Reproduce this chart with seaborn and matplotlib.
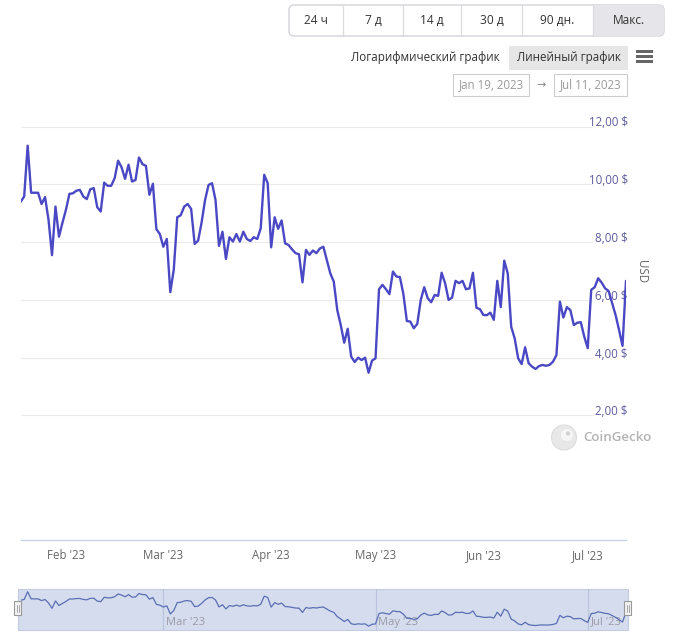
import matplotlib
matplotlib.use("Agg")
import matplotlib.pyplot as plt
import matplotlib.transforms as mtransforms
from matplotlib.patches import FancyBboxPatch, Rectangle, Circle
import pandas as pd
import seaborn as sns

# ---------------- data ----------------
start_date = "2023-01-19"
prices = [
    9.40, 9.58, 11.34, 9.71, 9.71, 9.71, 9.32, 9.56, 8.77, 7.55,
    9.23, 8.19, 8.67, 9.12, 9.67, 9.69, 9.78, 9.81, 9.58, 9.49,
    9.83, 9.87, 9.21, 9.06, 10.06, 9.95, 9.95, 10.21, 10.82, 10.59,
    10.19, 10.68, 10.10, 10.15, 10.93, 10.70, 10.64, 9.64, 10.02, 8.45,
    8.28, 7.84, 8.11, 6.27, 7.04, 8.86, 8.93, 9.23, 9.32, 9.15,
    7.94, 8.05, 8.68, 9.46, 9.98, 10.04, 9.46, 7.87, 8.36, 7.42,
    8.17, 8.02, 8.28, 8.02, 8.36, 8.11, 8.04, 8.17, 8.11, 8.48,
    10.33, 10.04, 7.82, 8.86, 8.46, 8.75, 7.96, 7.90, 7.75, 7.62,
    7.58, 6.61, 7.73, 7.56, 7.71, 7.62, 7.78, 7.84, 7.38, 6.92,
    6.63, 5.65, 5.13, 4.52, 5.00, 4.04, 3.85, 4.00, 3.92, 4.00,
    3.48, 3.90, 3.98, 6.37, 6.52, 6.37, 6.20, 6.98, 6.81, 6.79,
    6.21, 5.27, 5.25, 5.02, 5.17, 6.00, 6.44, 6.06, 5.92, 6.17,
    6.14, 6.94, 6.58, 6.00, 6.08, 6.66, 6.58, 6.66, 6.37, 6.40,
    6.94, 5.73, 5.68, 5.48, 5.47, 5.56, 5.31, 6.66, 5.75, 7.36,
    6.92, 5.07, 4.67, 3.98, 3.78, 4.36, 3.81, 3.69, 3.61, 3.71,
    3.75, 3.72, 3.75, 3.86, 4.09, 5.94, 5.39, 5.75, 5.65, 5.13,
    5.21, 5.23, 4.73, 4.33, 6.35, 6.44, 6.75, 6.60, 6.40, 6.31,
    5.89, 5.48, 4.96, 4.41, 6.66,
]
y_ticks = [2, 4, 6, 8, 10, 12]
y_tick_labels = ["2,00 $", "4,00 $", "6,00 $", "8,00 $", "10,00 $", "12,00 $"]
x_tick_dates = ["2023-02-01", "2023-03-01", "2023-04-01", "2023-05-01", "2023-06-01", "2023-07-01"]
x_tick_labels = ["Feb '23", "Mar '23", "Apr '23", "May '23", "Jun '23", "Jul '23"]
nav_tick_dates = ["2023-03-01", "2023-05-01", "2023-07-01"]
nav_tick_labels = ["Mar '23", "May '23", "Jul '23"]
range_buttons = ["24 ч", "7 д", "14 д", "30 д", "90 дн.", "Макс."]
scale_buttons = ["Логарифмический график", "Линейный график"]
date_from = "Jan 19, 2023"
date_to = "Jul 11, 2023"
y_axis_title = "USD"
watermark = "CoinGecko"

df = pd.DataFrame({"date": pd.date_range(start_date, periods=len(prices), freq="D"),
                   "price": prices})

# ---------------- style ----------------
sns.set_theme(style="white")
plt.rcParams["font.family"] = ["Open Sans", "DejaVu Sans"]

W, H = 691, 636
fig = plt.figure(figsize=(W / 100, H / 100), dpi=100)
fig.patch.set_facecolor("white")

def fx(px):
    return px / W

def fy(py):
    return 1 - py / H

LINE = "#4a48c4"

# ---------------- main chart ----------------
x0, x1 = 20.7, 626.0
top, bot = 100.0, 540.0
ax = fig.add_axes([fx(x0), fy(bot), fx(x1 - x0), (bot - top) / H])
sns.lineplot(data=df, x="date", y="price", ax=ax, color=LINE, lw=1.7, zorder=3)
ax.set_xlim(df["date"].iloc[0], df["date"].iloc[-1])
ax.set_ylim(-2.31, 12.92)
ax.set_xlabel("")
ax.set_ylabel("")
for s in ["top", "left", "right"]:
    ax.spines[s].set_visible(False)
ax.spines["bottom"].set_color("#ccd6eb")
ax.spines["bottom"].set_linewidth(1.0)
ax.set_yticks([])
ax.set_xticks(pd.to_datetime(x_tick_dates))
ax.set_xticklabels(x_tick_labels)
ax.tick_params(axis="x", direction="out", length=5.8, width=1, color="#ccd6eb",
               labelcolor="#666666", labelsize=8.3, pad=0.8)
ax.grid(False)

trans = mtransforms.blended_transform_factory(ax.transAxes, ax.transData)
for v, lab in zip(y_ticks, y_tick_labels):
    ax.plot([-0.006, 0.944], [v, v], transform=trans, color="#ebebeb", lw=0.8, zorder=1)
    ax.text(1.003, v - 0.10, lab, transform=trans, ha="right", va="bottom",
            color="#5c5a9e", fontsize=8.3, zorder=2)

# ---------------- navigator ----------------
nav_top, nav_bot = 589.0, 630.0
nav = fig.add_axes([fx(x0), fy(nav_bot), fx(x1 - x0), (nav_bot - nav_top) / H])
nav.set_facecolor((1, 1, 1, 0))
sns.lineplot(data=df, x="date", y="price", ax=nav, color="#5a6fb3", lw=0.9, zorder=3)
nav.set_xlim(df["date"].iloc[0], df["date"].iloc[-1])
nav.set_ylim(2.59, 11.97)
nav.set_xticks([])
nav.set_yticks([])
nav.set_xlabel("")
nav.set_ylabel("")
for s in nav.spines.values():
    s.set_visible(False)
ntrans = mtransforms.blended_transform_factory(nav.transData, nav.transAxes)
for d, lab in zip(pd.to_datetime(nav_tick_dates), nav_tick_labels):
    nav.plot([d, d], [0, 1], transform=ntrans, color="#b9c3dc", lw=0.8, zorder=2)
    nav.text(d + pd.Timedelta(days=0.8), 0.06, lab, transform=ntrans, ha="left",
             va="bottom", color="#9a9aa8", fontsize=8, zorder=2)

# ---------------- overlay (UI chrome) ----------------
ov = fig.add_axes([0, 0, 1, 1], zorder=-1)
ov.set_xlim(0, W)
ov.set_ylim(H, 0)
ov.axis("off")

ui = fig.add_axes([0, 0, 1, 1], zorder=10)
ui.set_xlim(0, W)
ui.set_ylim(H, 0)
ui.axis("off")
ui.patch.set_alpha(0)

# navigator background (behind the navigator line)
ov.add_patch(Rectangle((18, nav_top), 610, nav_bot - nav_top, facecolor="#d5dcee",
                       edgecolor="#c3cbe0", lw=0.8))

# navigator handles
for hx in (18, 628):
    ui.add_patch(Rectangle((hx - 3.5, 601), 7, 14, facecolor="#f2f2f2",
                           edgecolor="#999999", lw=0.8))
    ui.plot([hx - 1, hx - 1], [604.5, 611.5], color="#999999", lw=0.6)
    ui.plot([hx + 1, hx + 1], [604.5, 611.5], color="#999999", lw=0.6)

# range buttons
bx0, bx1, by0, by1 = 289, 664, 5, 36
group = FancyBboxPatch((bx0, by0), bx1 - bx0, by1 - by0,
                       boxstyle="round,pad=0,rounding_size=5",
                       facecolor="white", edgecolor="#cfcfd4", lw=0.9)
ui.add_patch(group)
edges = [289, 343, 403, 461, 522, 593, 664]
sel = Rectangle((593, by0), 71, by1 - by0, facecolor="#e6e6ea", edgecolor="none")
ui.add_patch(sel)
sel.set_clip_path(group)
for e in edges[1:-1]:
    ui.plot([e, e], [by0, by1], color="#dcdce0", lw=0.9)
for i, lab in enumerate(range_buttons):
    ui.text((edges[i] + edges[i + 1]) / 2, 20.5, lab, ha="center", va="center",
            color="#333333", fontsize=8.6)

# scale toggles
ui.text(500, 58, scale_buttons[0], ha="right", va="center", color="#333333", fontsize=8.4)
ui.add_patch(Rectangle((509, 45.5), 119, 24.5, facecolor="#e6e6e6", edgecolor="none"))
ui.text(568.5, 58, scale_buttons[1], ha="center", va="center", color="#333333", fontsize=8.4)
for yy in (51.5, 56.5, 61.5):
    ui.add_patch(Rectangle((636, yy - 1.3), 17, 2.6, facecolor="#666666", edgecolor="none"))

# date range inputs
ui.add_patch(Rectangle((453, 74), 76, 21.5, facecolor="white", edgecolor="#cccccc", lw=0.8))
ui.text(491, 85, date_from, ha="center", va="center", color="#9a9a9a", fontsize=8.3)
ui.text(541.5, 85, "→", ha="center", va="center", color="#888888", fontsize=8,
        family=["DejaVu Sans"])
ui.add_patch(Rectangle((554, 74), 73, 21.5, facecolor="white", edgecolor="#cccccc", lw=0.8))
ui.text(590.5, 85, date_to, ha="center", va="center", color="#9a9a9a", fontsize=8.3)

# y axis title
ui.text(642, 272, y_axis_title, ha="center", va="center", rotation=270,
        color="#666666", fontsize=8.3)

# watermark
ui.add_patch(Circle((564, 437.5), 12.5, facecolor="#e8e8e8", edgecolor="#dcdcdc", lw=0.8))
ui.add_patch(Circle((567, 435), 6, facecolor="#f6f6f6", edgecolor="none"))
ui.add_patch(Circle((568, 433.5), 2.2, facecolor="#d4d4d4", edgecolor="none"))
ui.text(583, 437.5, watermark, ha="left", va="center", color="#b3b3b3",
        fontsize=9.6, fontweight="semibold")

fig.savefig("out.png", dpi=100)
